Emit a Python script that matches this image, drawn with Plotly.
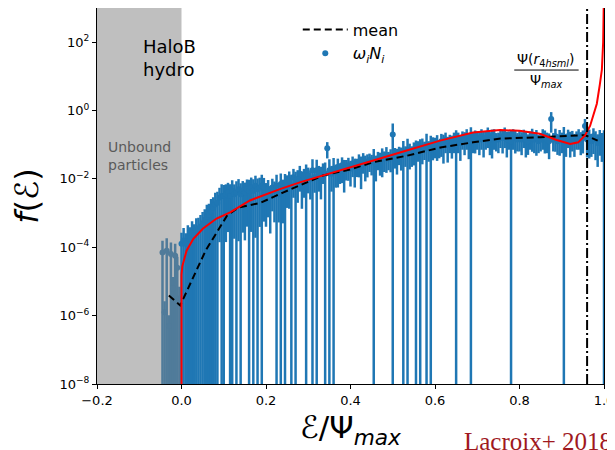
import numpy as np
import plotly.graph_objects as go

# ---------------- data ----------------
# binned energies E/Psi_max (bin centres)
e_bins = np.round(np.arange(-0.045, 1.0001, 0.005), 3)

# log10 of f(E) for each bin (omega_i N_i)
log_f = [
    # -0.045 .. -0.005 (unbound)
    -4.15, -5.9, -4.1, -6.3, -4.2, -5.2, -4.25, -4.6, -5.5,
    # 0.000 .. 0.045
    -3.9, -3.8, -3.9, -3.7, -3.75, -3.6, -3.65, -3.5, -3.45, -3.4,
    # 0.050 .. 0.095
    -3.3, -3.2, -3.1, -3.05, -2.95, -2.85, -2.75, -2.7, -2.55, -2.5,
    # 0.100 .. 0.145
    -2.5, -2.45, -2.4, -2.5, -2.35, -2.45, -2.4, -2.3, -2.45, -2.35,
    # 0.150 .. 0.195
    -2.4, -2.3, -2.35, -2.25, -2.35, -2.2, -2.3, -2.25, -2.2, -2.25,
    # 0.200 .. 0.245
    -2.4, -2.3, -2.5, -2.25, -2.35, -2.2, -2.45, -2.15, -2.3, -2.2,
    # 0.250 .. 0.295
    -2.15, -2.05, -2.2, -1.95, -2.1, -2.0, -1.85, -2.05, -1.95, -1.9,
    # 0.300 .. 0.345
    -1.9, -2.0, -1.75, -1.95, -1.75, -1.85, -1.9, -1.75, -1.85, -1.1,
    # 0.350 .. 0.395
    -1.75, -1.85, -1.7, -1.8, -1.65, -1.75, -1.6, -1.7, -1.65, -1.6,
    # 0.400 .. 0.445
    -1.7, -1.55, -1.65, -1.6, -1.5, -1.6, -1.45, -1.55, -1.5, -1.45,
    # 0.450 .. 0.495
    -1.5, -1.45, -1.55, -1.4, -1.45, -1.35, -1.4, -1.3, -1.4, -1.35,
    # 0.500 .. 0.545
    -0.7, -1.3, -1.35, -1.25, -1.3, -1.2, -1.25, -1.15, -1.2, -1.25,
    # 0.550 .. 0.595
    -1.15, -1.2, -1.1, -1.15, -1.05, -1.1, -1.0, -1.1, -1.05, -1.0,
    # 0.600 .. 0.645
    -1.0, -0.95, -1.05, -0.9, -0.95, -0.85, -1.0, -0.9, -0.95, -0.85,
    # 0.650 .. 0.695
    -0.9, -0.85, -0.95, -0.8, -0.85, -0.75, -0.9, -0.8, -0.85, -0.8,
    # 0.700 .. 0.745
    -0.8, -0.85, -0.75, -0.85, -0.8, -0.7, -0.85, -0.8, -0.75, -0.85,
    # 0.750 .. 0.795
    -0.85, -0.75, -0.8, -0.7, -0.85, -0.8, -0.9, -0.75, -0.8, -0.85,
    # 0.800 .. 0.845
    -0.8, -0.85, -0.75, -0.85, -0.9, -0.8, -0.75, -0.85, -0.8, -0.9,
    # 0.850 .. 0.895
    -0.85, -0.75, -0.8, -0.85, -0.9, -0.25, -0.85, -0.75, -0.9, -0.8,
    # 0.900 .. 0.945
    -0.85, -0.8, -0.9, -0.75, -0.85, -0.8, -0.9, -0.8, -0.75, -0.85,
    # 0.950 .. 0.995
    -0.8, -0.45, -0.85, -0.8, -0.9, -0.75, -0.85, -0.95, -0.8, -0.9,
    # 1.000
    -0.9,
]

# relative (symmetric) error sigma / f for each bin
rel_err = [
    1.2, 1.1, 1.3, 1.05, 1.2, 1.15, 1.25, 1.1, 1.2,
    1.1, 1.3, 1.05, 1.2, 1.15, 1.3, 1.1, 1.25, 1.05, 1.2,
    1.15, 1.05, 1.2, 1.1, 1.3, 1.05, 1.2, 1.1, 0.95, 1.2,
    1.1, 0.96, 0.93, 1.2, 1.05, 0.95, 1.15, 0.97, 1.1, 0.94,
    0.96, 0.92, 1.1, 0.95, 1.2, 0.97, 1.05, 0.93, 1.1, 0.9,
    0.9, 0.85, 0.92, 0.8, 0.88, 1.1, 0.85, 1.05, 0.9, 1.2,
    0.8, 0.85, 1.1, 0.75, 1.05, 0.8, 0.7, 0.85, 0.75, 1.1,
    0.7, 0.75, 1.1, 0.65, 1.05, 0.7, 0.8, 0.6, 1.15, 0.5,
    1.1, 0.7, 1.05, 0.65, 0.75, 0.6, 0.7, 0.8, 0.6, 0.65,
    0.7, 0.6, 0.75, 0.55, 0.65, 0.8, 0.6, 0.7, 0.65, 0.55,
    0.6, 1.1, 0.7, 0.55, 0.65, 0.75, 0.6, 0.7, 0.55, 0.65,
    1.1, 0.6, 0.7, 0.55, 0.65, 1.05, 0.6, 1.1, 0.7, 0.6,
    0.65, 1.1, 0.6, 1.05, 0.7, 0.55, 1.1, 0.6, 1.05, 0.65,
    0.6, 0.7, 0.55, 0.65, 0.75, 0.6, 0.7, 0.55, 0.65, 0.6,
    1.1, 0.6, 0.7, 0.55, 0.65, 0.6, 0.7, 1.05, 0.6, 0.65,
    0.55, 0.65, 0.6, 0.7, 0.55, 0.6, 0.65, 0.75, 0.6, 0.55,
    0.6, 0.55, 0.65, 0.6, 0.7, 0.55, 1.1, 0.6, 0.65, 0.55,
    0.6, 0.65, 0.55, 0.7, 0.6, 0.55, 0.65, 0.6, 0.7, 0.55,
    0.55, 0.6, 0.65, 0.6, 0.7, 0.6, 0.55, 0.65, 0.6, 0.7,
    0.6, 1.1, 0.65, 0.55, 0.7, 0.6, 0.65, 0.55, 0.6, 0.65,
    0.65, 0.6, 0.7, 0.75, 0.65, 0.7, 0.75, 0.8, 0.7, 0.75,
    1.1,
]

# mean f(E)
mean_e = [-0.03, -0.003, 0.057, 0.108, 0.135, 0.187, 0.24, 0.335, 0.4, 0.454,
          0.534, 0.613, 0.69, 0.755, 0.85, 0.93, 0.955, 0.985]
mean_logf = [-5.41, -5.7, -4.1, -3.07, -2.84, -2.7, -2.4, -1.9, -1.72, -1.51,
             -1.32, -1.08, -0.93, -0.82, -0.78, -0.75, -0.72, -0.88]

# model (Eddington) f(E)
model_e = [0.0, 0.0, 0.002, 0.005, 0.012, 0.028, 0.051, 0.083, 0.115, 0.162,
           0.2, 0.233, 0.28, 0.344, 0.376, 0.454, 0.533, 0.612, 0.69, 0.754,
           0.8, 0.848, 0.888, 0.92, 0.939, 0.955, 0.967, 0.975, 0.983, 0.99,
           0.995, 0.998, 0.9995]
model_logf = [-9.0, -4.8, -4.55, -4.4, -4.1, -3.75, -3.45, -3.16, -2.98, -2.63,
              -2.45, -2.3, -2.1, -1.87, -1.76, -1.46, -1.17, -0.88, -0.64, -0.57,
              -0.59, -0.68, -0.86, -0.98, -0.93, -0.73, -0.45, -0.15, 0.2, 0.75,
              1.2, 2.0, 3.2]

psi_r4hsml = 0.96          # Psi(r_4hsml)/Psi_max
unbound_limit = 0.0

x_ticks = [-0.2, 0.0, 0.2, 0.4, 0.6, 0.8, 1.0]
x_ticktext = ["\u22120.2", "0.0", "0.2", "0.4", "0.6", "0.8", "1.0"]
y_ticks = [1e-8, 1e-6, 1e-4, 1e-2, 1e0, 1e2]
y_ticktext = ["10<sup>\u22128</sup>", "10<sup>\u22126</sup>", "10<sup>\u22124</sup>",
              "10<sup>\u22122</sup>", "10<sup>0</sup>", "10<sup>2</sup>"]

# ---------------- figure ----------------
f = 10.0 ** np.array(log_f)
sig = f * np.array(rel_err)
bound = e_bins >= unbound_limit

BLUE = "#1f77b4"
BLUE_SHADED = "#507b9a"
FONT = "DejaVu Sans"

fig = go.Figure()

fig.add_trace(go.Scatter(
    x=e_bins[~bound], y=f[~bound], mode="markers",
    marker=dict(color=BLUE_SHADED, size=6),
    error_y=dict(type="data", array=sig[~bound], symmetric=True,
                 thickness=2.5, width=0, color=BLUE_SHADED),
    showlegend=False, hoverinfo="skip"))

fig.add_trace(go.Scatter(
    x=e_bins[bound], y=f[bound], mode="markers",
    marker=dict(color=BLUE, size=6),
    error_y=dict(type="data", array=sig[bound], symmetric=True,
                 thickness=2.5, width=0, color=BLUE),
    name="<i>\u03c9<sub>i</sub>N<sub>i</sub></i>", legendrank=2))

fig.add_trace(go.Scatter(
    x=mean_e, y=10.0 ** np.array(mean_logf), mode="lines",
    line=dict(color="black", width=2, dash="7px,4px"),
    name="mean", legendrank=1))

fig.add_trace(go.Scatter(
    x=model_e, y=10.0 ** np.array(model_logf), mode="lines",
    line=dict(color="red", width=2),
    showlegend=False))

fig.add_shape(type="rect", xref="x", yref="paper", x0=-0.2, x1=unbound_limit,
              y0=0, y1=1, fillcolor="rgba(128,128,128,0.5)", line_width=0,
              layer="below")
fig.add_shape(type="line", xref="x", yref="paper", x0=psi_r4hsml, x1=psi_r4hsml,
              y0=0, y1=1, line=dict(color="black", width=2, dash="10px,3px,2px,3px"))
# fraction bar for the Psi label
fig.add_shape(type="line", xref="paper", yref="paper", x0=0.823, x1=0.950,
              y0=0.835, y1=0.835, line=dict(color="black", width=1))

ann = [
    dict(text="HaloB<br>hydro", x=0.087, y=0.932, xanchor="left", yanchor="top",
         align="left", font=dict(size=18, color="black", family=FONT)),
    dict(text="Unbound<br>particles", x=0.017, y=0.607, xanchor="left", yanchor="middle",
         align="left", font=dict(size=14, color="#5a5a5a", family=FONT)),
    dict(text="\u03a8(<i>r</i><sub>4<i>hsml</i></sub>)", x=0.886, y=0.862,
         xanchor="center", yanchor="middle", font=dict(size=14, color="black", family=FONT)),
    dict(text="\u03a8<sub><i>max</i></sub>", x=0.886, y=0.806,
         xanchor="center", yanchor="middle", font=dict(size=14, color="black", family=FONT)),
    dict(text="Lacroix+ 2018b", x=0.72, y=-0.152, xanchor="left", yanchor="middle",
         font=dict(size=25, color="#a0191e", family="Liberation Serif")),
]
for a in ann:
    a.update(xref="paper", yref="paper", showarrow=False)
fig.update_layout(annotations=ann)

# the page body has an 8px default margin: the figure is sized so that the
# plot area lands at the same place as in the reference
fig.update_layout(
    width=607, height=442,
    margin=dict(l=89, r=11, t=0, b=66),
    paper_bgcolor="white", plot_bgcolor="white",
    font=dict(family=FONT, size=13, color="black"),
    showlegend=True,
    legend=dict(x=0.396, y=0.988, xanchor="left", yanchor="top",
                bgcolor="rgba(0,0,0,0)", borderwidth=0,
                font=dict(size=16, family=FONT), itemwidth=45),
    xaxis=dict(range=[-0.2, 1.0], tickvals=x_ticks, ticktext=x_ticktext,
               showgrid=False, zeroline=False, showline=True, linecolor="black",
               linewidth=1, mirror=True, ticks="outside", ticklen=4,
               tickcolor="black", tickfont=dict(size=13), automargin=False,
               title=dict(text="\u2130/\u03a8<sub><i>max</i></sub>",
                          font=dict(size=31), standoff=12)),
    yaxis=dict(type="log", range=[-8, 3], tickvals=y_ticks, ticktext=y_ticktext,
               showgrid=False, zeroline=False, showline=True, linecolor="black",
               linewidth=1, mirror=True, ticks="outside", ticklen=4,
               tickcolor="black", tickfont=dict(size=13), automargin=False,
               title=dict(text="<i>f</i>(\u2130)", font=dict(size=32), standoff=15)),
)

fig.write_html("out.html")
